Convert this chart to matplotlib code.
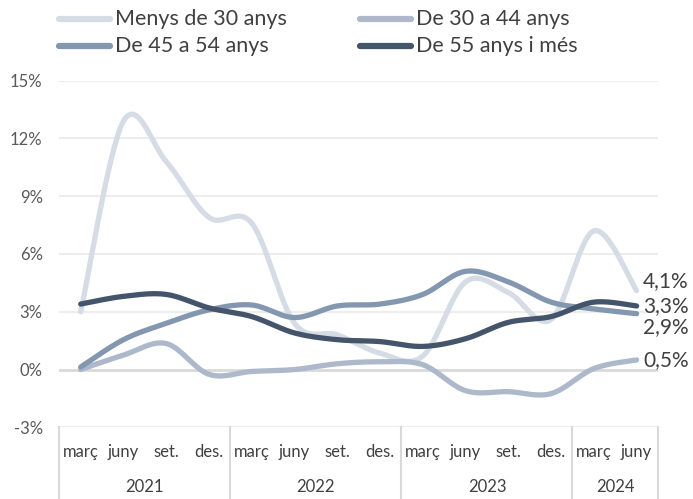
import numpy as np
import matplotlib
matplotlib.use("Agg")
import matplotlib.pyplot as plt
from matplotlib.lines import Line2D
import matplotlib.transforms as mtransforms

plt.rcParams['font.family'] = ['Lato', 'DejaVu Sans']

months = ["març", "juny", "set.", "des.", "març", "juny", "set.", "des.",
          "març", "juny", "set.", "des.", "març", "juny"]
years = ["2021", "2022", "2023", "2024"]
year_counts = [4, 4, 4, 2]

series_names = ["Menys de 30 anys", "De 30 a 44 anys", "De 45 a 54 anys", "De 55 anys i més"]
menys30 = [3.0, 12.9, 10.8, 7.9, 7.6, 2.4, 1.8, 0.85, 0.7, 4.55, 4.0, 2.6, 7.2, 4.1]
de30_44 = [0.0, 0.75, 1.35, -0.25, -0.1, 0.0, 0.3, 0.4, 0.25, -1.1, -1.15, -1.25, 0.05, 0.5]
de45_54 = [0.13, 1.55, 2.4, 3.1, 3.35, 2.7, 3.3, 3.4, 3.9, 5.1, 4.55, 3.5, 3.15, 2.9]
de55 = [3.4, 3.8, 3.9, 3.2, 2.75, 1.9, 1.55, 1.45, 1.2, 1.6, 2.45, 2.75, 3.5, 3.3]
end_labels = ["4,1%", "0,5%", "2,9%", "3,3%"]
label_y = [4.6, 0.5, 2.2, 3.3]

colors = ["#D6DCE5", "#ADB9CA", "#8497B0", "#44546A"]
all_series = [menys30, de30_44, de45_54, de55]

W, H = 693, 499


def smooth(y, n=30):
    y = np.asarray(y, float)
    x = np.arange(len(y), dtype=float)
    P = np.column_stack([x, y])
    out = []
    for i in range(len(P) - 1):
        p0 = P[i - 1] if i > 0 else P[i]
        p1 = P[i]
        p2 = P[i + 1]
        p3 = P[i + 2] if i + 2 < len(P) else P[i + 1]
        c1 = p1 + (p2 - p0) / 6.0
        c2 = p2 - (p3 - p1) / 6.0
        t = np.linspace(0, 1, n, endpoint=(i == len(P) - 2))[:, None]
        seg = ((1 - t) ** 3) * p1 + 3 * ((1 - t) ** 2) * t * c1 + 3 * (1 - t) * t ** 2 * c2 + t ** 3 * p2
        out.append(seg)
    out = np.vstack(out)
    return out[:, 0], out[:, 1]


fig = plt.figure(figsize=(W / 100, H / 100), dpi=100)
ax = fig.add_axes([0.0856, 0.1437, 0.9495 - 0.0856, 0.8383 - 0.1437])

ax.set_xlim(-0.5, len(months) - 0.5)
ax.set_ylim(-3, 15)
yt = [-3, 0, 3, 6, 9, 12, 15]
ax.set_yticks(yt)
ax.set_yticklabels([f"{v}%" for v in yt], fontsize=12, color="#595959")
ax.tick_params(axis='y', length=0, pad=12)
ax.set_xticks([])
for s in ax.spines.values():
    s.set_visible(False)

for v in yt:
    if v == 0:
        ax.axhline(v, color="#D9D9D9", lw=2.0, zorder=1)
    else:
        ax.axhline(v, color="#EDEDED", lw=1.5, zorder=1)

for yv, c, name in zip(all_series, colors, series_names):
    xs, ys = smooth(yv)
    ax.plot(xs, ys, color=c, lw=3.8, solid_capstyle='round', zorder=3, label=name)

# end labels
for yv, lab, ly in zip(all_series, end_labels, label_y):
    ax.text(len(months) - 1 + 0.15, ly, lab, fontsize=15, color="#404040",
            va='center', ha='left', clip_on=False)

# category axis
trans = mtransforms.blended_transform_factory(ax.transData, ax.transAxes)
for i, m in enumerate(months):
    ax.text(i, -0.072, m, transform=trans, ha='center', va='center', fontsize=12, color="#404040")
bounds = np.concatenate([[0], np.cumsum(year_counts)]) - 0.5
for b in bounds:
    ax.plot([b, b], [0, -0.205], transform=trans, color="#D9D9D9", lw=1.5, clip_on=False)
for k, yr in enumerate(years):
    mid = (bounds[k] + bounds[k + 1]) / 2
    ax.text(mid, -0.172, yr, transform=trans, ha='center', va='center', fontsize=12, color="#404040")

# legend (manual layout, 2x2)
leg_pos = [(57, 19), (358, 19), (57, 46), (358, 46)]
for (px, py), c, name in zip(leg_pos, colors, series_names):
    fig.add_artist(Line2D([(px + 2) / W, (px + 53) / W], [1 - py / H, 1 - py / H],
                          color=c, lw=4.5, solid_capstyle='round', transform=fig.transFigure))
    fig.text((px + 58) / W, 1 - py / H, name, fontsize=15.5, color="#404040",
             ha='left', va='center')

fig.savefig("out.png", dpi=100)
